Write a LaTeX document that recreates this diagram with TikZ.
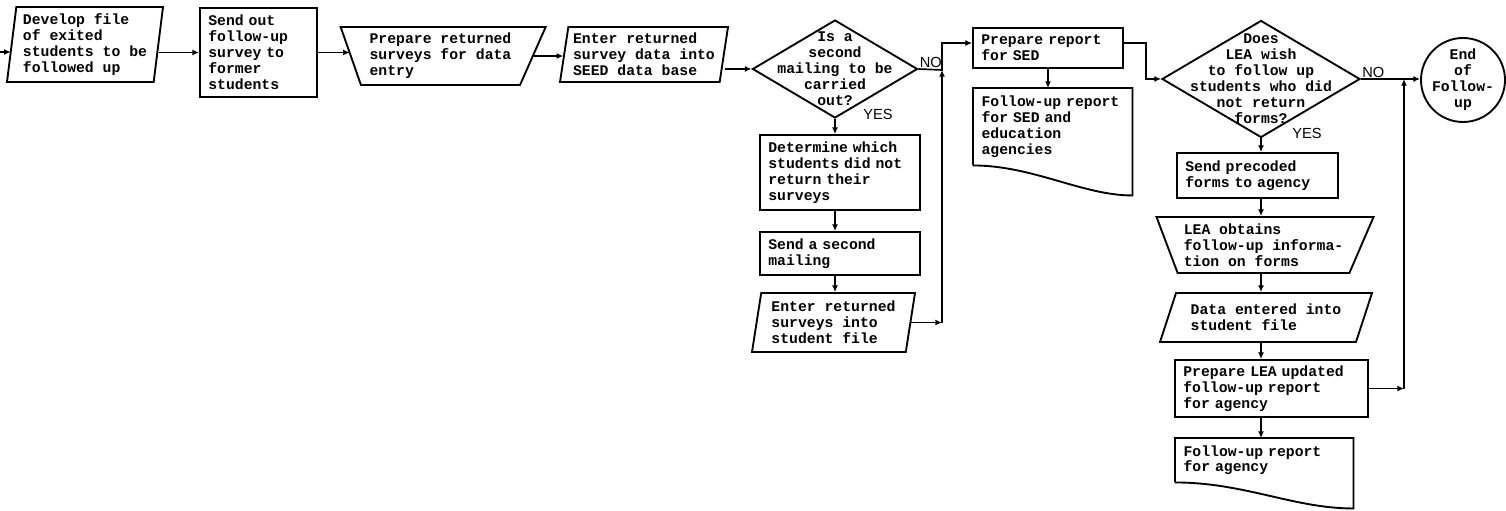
\documentclass[tikz,border=0pt]{standalone}
\usepackage{fontspec}
\newfontfamily\typer{Liberation Mono}
\newfontfamily\yesno{Liberation Sans}
\usetikzlibrary{shapes.geometric,arrows.meta}

\begin{document}
\begin{tikzpicture}[x=0.03cm,y=-0.03cm,
  every node/.style={font=\typer\bfseries\fontsize{12.6}{13.6}\selectfont},
  shp/.style={draw,line width=1.6pt},
  box/.style={shp,rectangle,align=left,inner xsep=0.25cm},
  slant/.style={shp,trapezium,trapezium stretches body,align=left,inner sep=2pt},
  dia/.style={shp,diamond,inner sep=0pt},
  txt/.style={inner sep=0pt},
  docbody/.style={rectangle,align=left,inner xsep=0.25cm,inner ysep=0pt},
  arr/.style={line width=1.4pt,-{Latex[length=2mm,width=1.8mm]}},
  lbl/.style={font=\yesno\fontsize{12.5}{14}\selectfont,inner sep=1pt}]
\useasboundingbox[fill=white] (0,0) rectangle (1506,511);
% top row
\node[slant, trapezium left angle=82, trapezium right angle=98, minimum width=4.68cm, minimum height=2.25cm] (dev) at (85,44.5) {Develop file\\of exited\\students to be\\followed up};
\node[box, minimum width=3.51cm, text width=3.01cm, minimum height=2.67cm] (send) at (258.5,52.5) {Send out\\follow-up\\survey to\\former\\students};
\node[slant, trapezium left angle=112, trapezium right angle=117, minimum width=6.15cm, minimum height=1.74cm] (prep) at (440.5,56) {Prepare returned\\surveys for data\\entry};
\node[slant, trapezium left angle=80, trapezium right angle=100, minimum width=5.04cm, minimum height=1.65cm] (enter) at (644,54.5) {Enter returned\\survey data into\\SEED data base};
\node[dia, minimum width=4.95cm, minimum height=2.94cm] (q1) at (835,69) {};
\node[txt, align=center] (q1t) at (q1) {Is a\\second\\mailing to be\\carried\\out?};
% second mailing
\node[box, minimum width=4.8cm, text width=4.3cm, minimum height=2.25cm] (det) at (840,172.5) {Determine which\\students did not\\return their\\surveys};
\node[box, minimum width=4.8cm, text width=4.3cm, minimum height=1.29cm] (mail) at (840,253.5) {Send a second\\mailing};
\node[slant, trapezium left angle=79, trapezium right angle=101, minimum width=4.89cm, minimum height=1.77cm] (enter2) at (833.5,322.5) {Enter returned\\surveys into\\student file};
% SED report
\node[box, minimum width=4.5cm, text width=4.0cm, minimum height=1.2cm] (sed) at (1048,48) {Prepare report\\for SED};
\node[docbody, text width=4.27cm, minimum height=2.31cm, anchor=north west] (sedrep) at (973,88) {Follow-up report\\for SED and\\education\\agencies};
\draw[shp] (sedrep.south west) -- (sedrep.north west) -- (sedrep.north east) -- ([yshift=-0.9cm]sedrep.south east) .. controls +(-50,0) and +(60,0) .. (sedrep.south west);
% LEA follow-up
\node[dia, minimum width=5.94cm, minimum height=3.51cm] (q2) at (1261,79) {};
\node[txt, align=center] (q2t) at (q2) {Does\\LEA wish\\to follow up\\students who did\\not return\\forms?};
\node[shp, circle, minimum size=2.52cm, inner sep=0pt] (endc) at (1463,80) {};
\node[txt, align=center] (endt) at (endc) {End\\of\\Follow-\\up};
\node[box, minimum width=4.83cm, text width=4.33cm, minimum height=1.35cm] (prec) at (1257.5,175.5) {Send precoded\\forms to agency};
\node[slant, trapezium left angle=114, trapezium right angle=117, minimum width=6.51cm, minimum height=1.68cm] (obt) at (1263.5,245) {LEA obtains\\follow-up informa-\\tion on forms};
\node[slant, trapezium left angle=63, trapezium right angle=117, minimum width=6.36cm, minimum height=1.47cm] (dat) at (1266,317.5) {Data entered into\\student file};
\node[box, minimum width=5.79cm, text width=5.29cm, minimum height=1.71cm] (upd) at (1271.5,388.5) {Prepare LEA updated\\follow-up report\\for agency};
\node[docbody, text width=4.84cm, minimum height=1.32cm, anchor=north west] (agrep) at (1175,438) {Follow-up report\\for agency};
\draw[shp] (agrep.south west) -- (agrep.north west) -- (agrep.north east) -- ([yshift=-0.78cm]agrep.south east) .. controls +(-60,0) and +(70,0) .. (agrep.south west);
% labels
\node[lbl, anchor=south west] (no1) at (q1.east) {NO};
\node[lbl, anchor=west] (yes1) at (862,114) {YES};
\node[lbl, anchor=south west] (no2) at (q2.east) {NO};
\node[lbl, anchor=west] (yes2) at (1291,133) {YES};
% connectors
\coordinate (in) at (0,52);
\coordinate (q1r) at (942,70);
\coordinate (q2r) at (1404,79);
\draw[arr] (in) -- (in -| dev.west);
\draw[arr] (send.west -| dev.east) -- (send.west);
\draw[arr] (send.east) -- (send.east -| prep.west);
\draw[arr] (prep.east) -- (prep.east -| enter.west);
\draw[arr] (q1.west -| enter.east) -- (q1.west);
\draw[arr] (q1.east) -- (q1r) |- ([yshift=0.15cm]sed.west);
\draw[arr] (q1.south) -- (q1.south |- det.north);
\draw[arr] (q1.south |- det.south) -- (q1.south |- mail.north);
\draw[arr] (q1.south |- mail.south) -- (q1.south |- enter2.north);
\draw[arr] (enter2.east) -- (enter2.east -| q1r);
\draw[arr] (enter2.east -| q1r) -- (q1r);
\draw[arr] (sed.south) -- (sed.south |- sedrep.north);
\draw[arr] ([yshift=0.15cm]sed.east) -- ++(22,0) |- (q2.west);
\draw[arr] (q2.east) -- (q2.east -| endc.west);
\draw[arr] (q2.south) -- (q2.south |- prec.north);
\draw[arr] (q2.south |- prec.south) -- (q2.south |- obt.north);
\draw[arr] (q2.south |- obt.south) -- (q2.south |- dat.north);
\draw[arr] (q2.south |- dat.south) -- (q2.south |- upd.north);
\draw[arr] (q2.south |- upd.south) -- (q2.south |- agrep.north);
\draw[arr] (upd.east) -- (upd.east -| q2r);
\draw[arr] (upd.east -| q2r) -- (q2r);
\end{tikzpicture}
\end{document}
